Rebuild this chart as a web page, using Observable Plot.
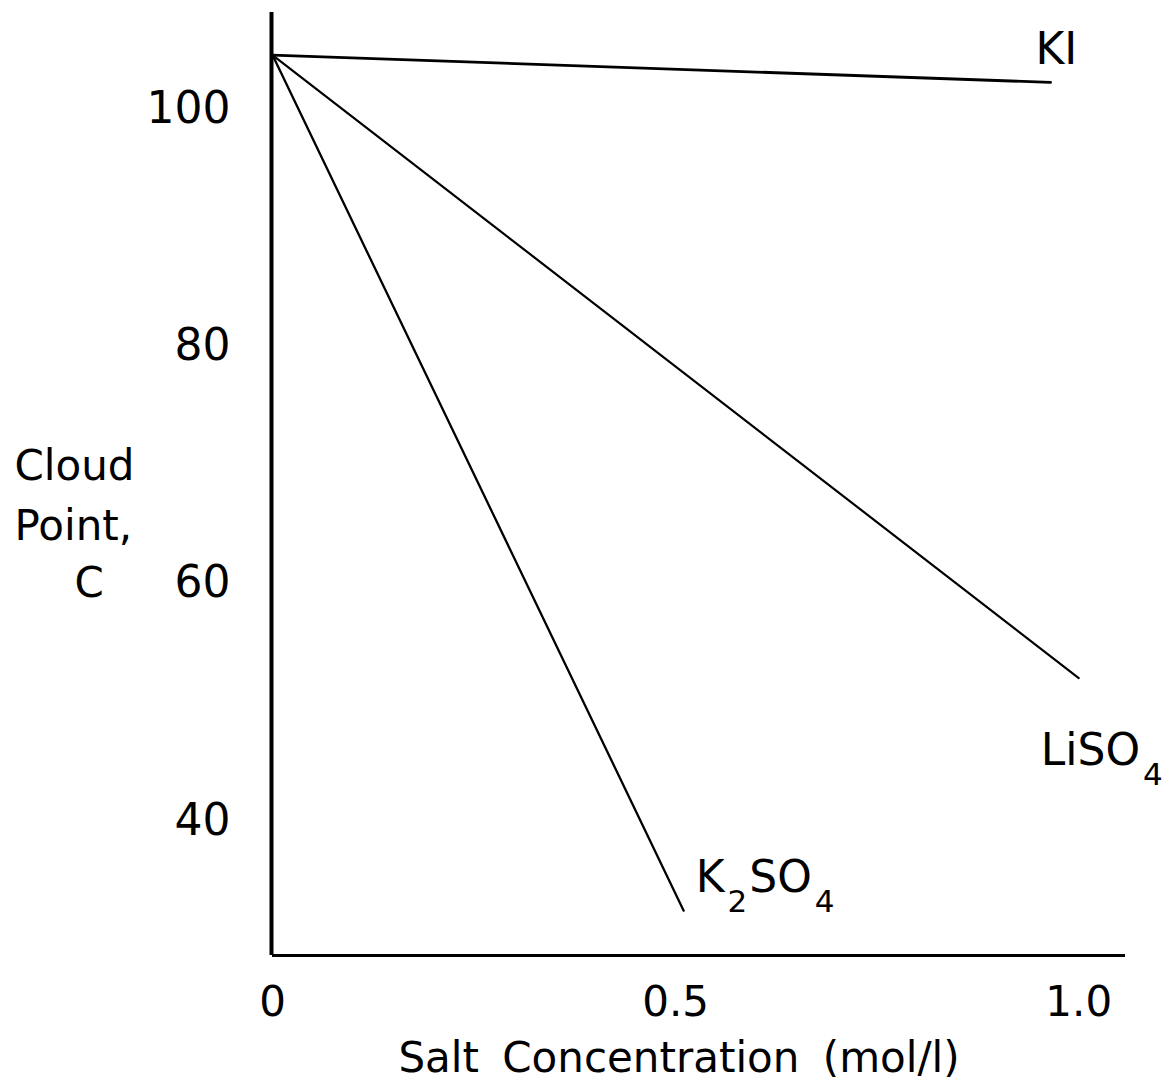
<!DOCTYPE html>
<html>
<head>
<meta charset="utf-8">
<script src="https://cdn.jsdelivr.net/npm/d3@7"></script>
<script src="https://cdn.jsdelivr.net/npm/@observablehq/plot@0.6"></script>
<style>
  html, body { margin: 0; padding: 0; background: #fff; }
  svg { display: block; }
</style>
</head>
<body>
<div id="chart"></div>
<script>
// Cloud point of the surfactant solution versus added salt concentration
const salts = ["KI", "LiSO4", "K2SO4"];
const kiConc = [0, 0.965];
const kiCloud = [104.5, 102.2];
const liConc = [0, 1.0];
const liCloud = [104.5, 52.0];
const k2Conc = [0, 0.51];
const k2Cloud = [104.5, 32.4];

const xTicks = [0, 0.5, 1.0];
const yTicks = [40, 60, 80, 100];
const yTitleLines = ["Cloud", "Point,", "C"];
const xTitle = "Salt Concentration (mol/l)";

const series = [
  {salt: salts[0], conc: kiConc, cloud: kiCloud},
  {salt: salts[1], conc: liConc, cloud: liCloud},
  {salt: salts[2], conc: k2Conc, cloud: k2Cloud}
];
const toRows = s => s.conc.map((c, i) => ({salt: s.salt, conc: c, cloud: s.cloud[i]}));
const ends = series.map(s => ({salt: s.salt, conc: s.conc[s.conc.length - 1], cloud: s.cloud[s.cloud.length - 1]}));
const endOf = name => ends.filter(d => d.salt === name);

const font = "DejaVu Sans";
const xDomain = [0, 1.058];
const yDomain = [28.62, 108.09];

const chart = Plot.plot({
  width: 1166,
  height: 1088,
  marginLeft: 272,
  marginRight: 41,
  marginTop: 12,
  marginBottom: 133,
  style: {fontFamily: font, background: "#fff", color: "#000", overflow: "visible"},
  x: {domain: xDomain},
  y: {domain: yDomain},
  marks: [
    // tick labels without tick marks
    Plot.axisY(yTicks, {tickSize: 0, tickPadding: 42, fontSize: 44, label: null}),
    Plot.axisX(xTicks, {tickSize: 0, tickPadding: 31, fontSize: 42, label: null,
      tickFormat: d => d === 0 ? "0" : d.toFixed(1)}),
    // axis lines
    Plot.ruleX([xDomain[0]], {stroke: "#000", strokeWidth: 4, dx: -1}),
    Plot.ruleY([yDomain[0]], {stroke: "#000", strokeWidth: 3}),
    // one straight line per salt
    Plot.line(toRows(series[0]), {x: "conc", y: "cloud", stroke: "#000", strokeWidth: 2.8}),
    Plot.line(toRows(series[1]), {x: "conc", y: "cloud", stroke: "#000", strokeWidth: 2.2}),
    Plot.line(toRows(series[2]), {x: "conc", y: "cloud", stroke: "#000", strokeWidth: 2.3}),
    // series labels next to the line ends
    Plot.text(endOf("KI"), {x: "conc", y: "cloud", text: "salt", textAnchor: "start", dx: -15, dy: -32, fontSize: 44}),
    Plot.text(endOf("LiSO4"), {x: "conc", y: "cloud", text: "salt", textAnchor: "start", dx: -38, dy: 73, fontSize: 44}),
    Plot.text(endOf("K2SO4"), {x: "conc", y: "cloud", text: "salt", textAnchor: "start", dx: 12, dy: -33, fontSize: 44}),
    // y title, stacked on the left, last line level with the 60 tick
    Plot.text([yTitleLines[0]], {frameAnchor: "left", y: () => yTicks[1], text: d => d, textAnchor: "start", dx: -258, dy: -117, fontSize: 42}),
    Plot.text([yTitleLines[1]], {frameAnchor: "left", y: () => yTicks[1], text: d => d, textAnchor: "start", dx: -258, dy: -57, fontSize: 42}),
    Plot.text([yTitleLines[2]], {frameAnchor: "left", y: () => yTicks[1], text: d => d, textAnchor: "start", dx: -198, dy: 0, fontSize: 42}),
    // x title
    Plot.text([xTitle], {frameAnchor: "bottom", text: d => d, dx: -20, dy: 116, fontSize: 42})
  ]
});

const svg = d3.select(chart);

// wider gaps between the words of the x title
svg.selectAll("text").filter(function () { return this.textContent === xTitle; })
  .attr("word-spacing", "10px");

// chemical formulas: set digits as lowered subscripts
svg.selectAll("text").each(function () {
  const el = d3.select(this);
  const t = this.textContent;
  if (!/^(LiSO4|K2SO4)$/.test(t)) return;
  el.text(null);
  const parts = t.match(/[A-Za-z]+|\d+/g);
  let lowered = false;
  for (const p of parts) {
    const isNum = /^\d+$/.test(p);
    const ts = el.append("tspan").text(p);
    if (isNum) {
      ts.attr("font-size", 31).attr("dy", lowered ? null : 20).attr("dx", 3);
      lowered = true;
    } else {
      ts.attr("dy", lowered ? -20 : null).attr("dx", lowered ? 2 : null);
      lowered = false;
    }
  }
});

document.getElementById("chart").appendChild(chart);
</script>
</body>
</html>
